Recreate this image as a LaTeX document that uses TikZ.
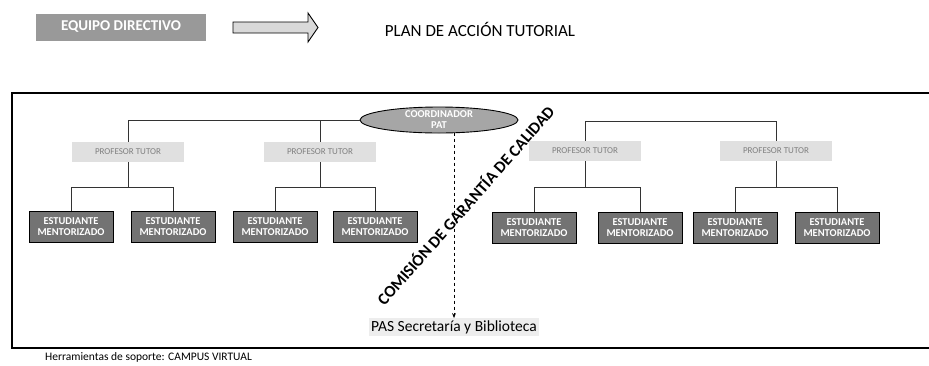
\documentclass[tikz,border=0pt]{standalone}
\usepackage{fontspec}
\setmainfont{Carlito}
\usetikzlibrary{arrows.meta,shapes.geometric}
\begin{document}
\begin{tikzpicture}[x=1pt,y=-1pt,
  conn/.style={draw=black!80, line width=0.6pt},
  student/.style={draw=black, line width=0.9pt, fill=black!55, text=white,
    font=\bfseries\fontsize{10.5}{11}\selectfont, align=center,
    minimum width=84pt, minimum height=31pt, inner sep=1pt},
  tutor/.style={fill=black!12, text=black!50, font=\fontsize{9}{10}\selectfont,
    align=center, minimum width=112pt, minimum height=20pt, inner sep=1pt},
  coordbox/.style={ellipse, draw=black, line width=0.9pt, fill=black!35, text=white,
    font=\bfseries\fontsize{10.5}{11}\selectfont, align=center,
    minimum width=158pt, minimum height=26pt, inner sep=0pt},
  plain/.style={inner sep=1pt, text=black}
]
\useasboundingbox (0,0) rectangle (929,365);

% header
\node[fill=black!40, text=white, font=\bfseries\fontsize{15}{16}\selectfont,
      minimum width=170pt, minimum height=27pt, inner sep=0pt] (ed) at (121,27) {EQUIPO DIRECTIVO};
\draw[draw=black, line width=0.9pt, fill=black!15]
  (233,22) -- (308,22) -- (308,13) -- (318,27.5) -- (308,42) -- (308,33) -- (233,33) -- cycle;
\node[plain, font=\fontsize{17}{19}\selectfont] (title) at (480,29) {PLAN DE ACCIÓN TUTORIAL};

% frame
\draw[line width=1.2pt] (929,93) -- (12,93) -- (12,348) -- (929,348);

% coordinator
\node[coordbox] (coord) at (439,120) {COORDINADOR\\PAT};

% tutors
\node[tutor] (t1) at (128,152) {PROFESOR TUTOR};
\node[tutor] (t2) at (320,152) {PROFESOR TUTOR};
\node[tutor] (t3) at (585,151) {PROFESOR TUTOR};
\node[tutor] (t4) at (776,151) {PROFESOR TUTOR};

% students
\node[student] (s1) at (71,227)  {ESTUDIANTE\\MENTORIZADO};
\node[student] (s2) at (173,227) {ESTUDIANTE\\MENTORIZADO};
\node[student] (s3) at (275,227) {ESTUDIANTE\\MENTORIZADO};
\node[student] (s4) at (375,227) {ESTUDIANTE\\MENTORIZADO};
\node[student] (s5) at (534,228) {ESTUDIANTE\\MENTORIZADO};
\node[student] (s6) at (640,228) {ESTUDIANTE\\MENTORIZADO};
\node[student] (s7) at (735,228) {ESTUDIANTE\\MENTORIZADO};
\node[student] (s8) at (837,228) {ESTUDIANTE\\MENTORIZADO};

% PAS
\node[plain, fill=black!7, font=\fontsize{15.5}{17}\selectfont, inner sep=2pt] (pas) at (454,327) {PAS Secretaría y Biblioteca};

% connectors top
\coordinate (jl) at (t1.north |- coord.west);
\coordinate (jr) at (t4.north |- 0,121);
\draw[conn] (coord.west) -- (jl) -- (t1.north);
\draw[conn] (t2.north |- coord.west) -- (t2.north);
\draw[conn] (t3.north |- jr) -- (jr) -- (t4.north);
\draw[conn] (t3.north |- jr) -- (t3.north);

% connectors tutor -> students
\draw[conn] (t1.south) -- ++(0,25) -| (s1.north);
\draw[conn] (t1.south) ++(0,25) -| (s2.north);
\draw[conn] (t2.south) -- ++(0,25) -| (s3.north);
\draw[conn] (t2.south) ++(0,25) -| (s4.north);
\draw[conn] (t3.south) -- ++(0,26) -| (s5.north);
\draw[conn] (t3.south) ++(0,26) -| (s6.north);
\draw[conn] (t4.south) -- ++(0,26) -| (s7.north);
\draw[conn] (t4.south) ++(0,26) -| (s8.north);

% dashed arrow
\draw[line width=0.8pt, dashed, -{Stealth[length=5pt]}] (pas.north |- 0,132.5) coordinate (vtop) -- (pas.north);

% diagonal text
\node[plain, rotate=48.6, font=\bfseries\fontsize{16.5}{18}\selectfont] (cgc) at (465,205) {COMISIÓN DE GARANTÍA DE CALIDAD};

% bottom text
\node[plain, anchor=west, font=\fontsize{11.5}{13}\selectfont] (tools) at (44,357) {Herramientas de soporte: CAMPUS VIRTUAL};
\end{tikzpicture}
\end{document}
